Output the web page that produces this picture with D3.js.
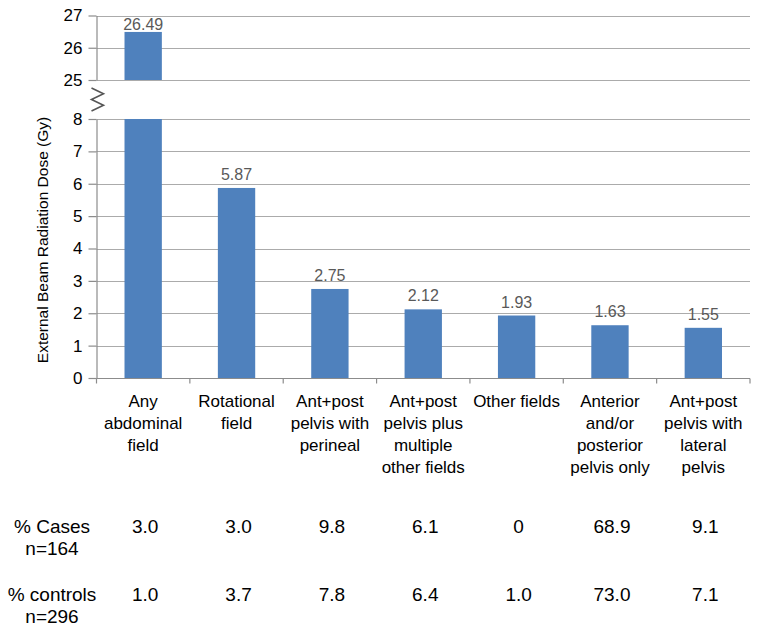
<!DOCTYPE html>
<html>
<head>
<meta charset="utf-8">
<script src="https://cdn.jsdelivr.net/npm/d3@7"></script>
<style>
  html, body { margin: 0; padding: 0; background: #fff; }
  svg { display: block; font-family: "Liberation Sans", Arial, sans-serif; }
</style>
</head>
<body>
<svg id="chart" width="762" height="635"></svg>
<script>
// ---- data ----
const categories = [
  "Any abdominal field",
  "Rotational field",
  "Ant+post pelvis with perineal",
  "Ant+post pelvis plus multiple other fields",
  "Other fields",
  "Anterior and/or posterior pelvis only",
  "Ant+post pelvis with lateral pelvis"
];
const categoryLines = [
  ["Any", "abdominal", "field"],
  ["Rotational", "field"],
  ["Ant+post", "pelvis with", "perineal"],
  ["Ant+post", "pelvis plus", "multiple", "other fields"],
  ["Other fields"],
  ["Anterior", "and/or", "posterior", "pelvis only"],
  ["Ant+post", "pelvis with", "lateral", "pelvis"]
];
const doseValues = [26.49, 5.87, 2.75, 2.12, 1.93, 1.63, 1.55];
const casesPct = ["3.0", "3.0", "9.8", "6.1", "0", "68.9", "9.1"];
const controlsPct = ["1.0", "3.7", "7.8", "6.4", "1.0", "73.0", "7.1"];
const rowLabels = [["% Cases", "n=164"], ["% controls", "n=296"]];
const lowerTicks = [0, 1, 2, 3, 4, 5, 6, 7, 8];
const upperTicks = [25, 26, 27];
const yTitle = "External Beam Radiation Dose (Gy)";

// ---- layout ----
const svg = d3.select("#chart");
const left = 96.5, right = 750;
const lowerDomain = [0, 8], upperDomain = [25, 27];

const x = d3.scaleBand().domain(categories).range([left, right])
  .paddingInner(0.6).paddingOuter(0.3);
const yLow = d3.scaleLinear().domain(lowerDomain).range([378, 119]);
const yHigh = d3.scaleLinear().domain(upperDomain).range([80, 15.5]);

const gridColor = "#ABABAB", axisColor = "#8C8C8C", barColor = "#4F81BD";

// grid lines
const grid = svg.append("g");
function drawGrid(scale, ticks) {
  grid.selectAll(null).data(ticks).enter().append("line")
    .attr("x1", left).attr("x2", right)
    .attr("y1", d => Math.round(scale(d)) + 0.5).attr("y2", d => Math.round(scale(d)) + 0.5)
    .attr("stroke", gridColor).attr("stroke-width", 1.2);
}
drawGrid(yLow, lowerTicks);
drawGrid(yHigh, upperTicks);

// bars
const bars = svg.append("g");
categories.forEach((c, i) => {
  const v = doseValues[i];
  const lowTop = Math.min(v, lowerDomain[1]);
  bars.append("rect")
    .attr("x", x(c)).attr("width", x.bandwidth())
    .attr("y", yLow(lowTop)).attr("height", yLow(0) - yLow(lowTop))
    .attr("fill", barColor);
  if (v > upperDomain[0]) {
    bars.append("rect")
      .attr("x", x(c)).attr("width", x.bandwidth())
      .attr("y", yHigh(v)).attr("height", yHigh(upperDomain[0]) - yHigh(v))
      .attr("fill", barColor);
  }
});

// value labels
const labels = svg.append("g")
  .attr("font-size", 16).attr("fill", "#595959").attr("text-anchor", "middle");
categories.forEach((c, i) => {
  const v = doseValues[i];
  const top = v > upperDomain[0] ? yHigh(v) : yLow(v);
  labels.append("text")
    .attr("x", x(c) + x.bandwidth() / 2)
    .attr("y", Math.max(top - 8, yHigh(upperDomain[1]) + 14))
    .text(v.toFixed(2));
});

// y axes
function styleAxis(g) {
  g.select(".domain").attr("stroke", axisColor).attr("stroke-width", 1.2);
  g.selectAll(".tick line").attr("stroke", axisColor).attr("stroke-width", 1.2);
  g.selectAll(".tick text").attr("fill", "#000").attr("font-size", 17)
    .attr("font-family", "Liberation Sans, Arial, sans-serif");
}
svg.append("g").attr("transform", `translate(${left},0)`)
  .call(d3.axisLeft(yLow).tickValues(lowerTicks).tickSizeInner(8).tickSizeOuter(0).tickPadding(6).tickFormat(d3.format("d")))
  .call(styleAxis);
svg.append("g").attr("transform", `translate(${left},0)`)
  .call(d3.axisLeft(yHigh).tickValues(upperTicks).tickSizeInner(8).tickSizeOuter(0).tickPadding(6).tickFormat(d3.format("d")))
  .call(styleAxis);

// axis break zigzag
const gapTop = yHigh(upperDomain[0]), gapBot = yLow(lowerDomain[1]);
const zy0 = gapTop + 8, zy1 = gapBot - 8, zn = 4;
const zig = d3.range(zn + 1).map(k => [k % 2 === 0 ? left - 5 : left + 7, zy0 + (zy1 - zy0) * k / zn]);
svg.append("path").attr("d", d3.line()(zig))
  .attr("fill", "none").attr("stroke", "#555").attr("stroke-width", 1.6);

// x axis
const y0 = Math.round(yLow(0)) + 0.5;
const xAxis = svg.append("g");
xAxis.append("line").attr("x1", left).attr("x2", right).attr("y1", y0).attr("y2", y0)
  .attr("stroke", axisColor).attr("stroke-width", 1.2);
xAxis.selectAll(null).data(d3.range(categories.length + 1)).enter().append("line")
  .attr("x1", i => left + i * x.step()).attr("x2", i => left + i * x.step())
  .attr("y1", y0).attr("y2", y0 + 5)
  .attr("stroke", axisColor).attr("stroke-width", 1.2);

// category labels
const catG = svg.append("g").attr("font-size", 17).attr("fill", "#000").attr("text-anchor", "middle");
categories.forEach((c, i) => {
  const t = catG.append("text").attr("x", x(c) + x.bandwidth() / 2).attr("y", 407);
  categoryLines[i].forEach((ln, j) => {
    t.append("tspan").attr("x", x(c) + x.bandwidth() / 2).attr("dy", j === 0 ? 0 : 22).text(ln);
  });
});

// y title
svg.append("text")
  .attr("transform", "translate(48,240) rotate(-90)")
  .attr("text-anchor", "middle").attr("font-size", 15.5).attr("fill", "#000")
  .text(yTitle);

// table
const tab = svg.append("g").attr("font-size", 19).attr("fill", "#000").attr("text-anchor", "middle");
const rowY = [533, 601];
[casesPct, controlsPct].forEach((row, r) => {
  const t = tab.append("text").attr("x", 52).attr("y", rowY[r]);
  rowLabels[r].forEach((ln, j) => {
    t.append("tspan").attr("x", 52).attr("dy", j === 0 ? 0 : 22).text(ln);
  });
  row.forEach((v, i) => {
    tab.append("text").attr("x", x(categories[i]) + x.bandwidth() / 2 + 2).attr("y", rowY[r]).text(v);
  });
});
</script>
</body>
</html>
